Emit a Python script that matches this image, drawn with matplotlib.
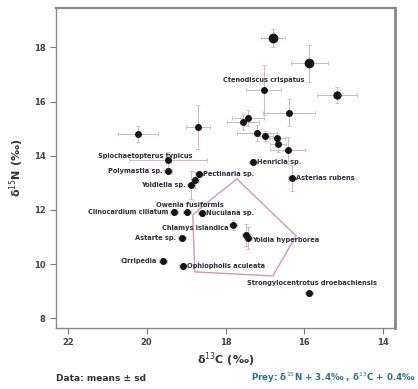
import numpy as np
import matplotlib
matplotlib.use("Agg")
import matplotlib.pyplot as plt

# species means (d13C, d15N) and sd
d13C = [-16.80, -15.88, -15.17, -17.03, -16.39, -17.56, -17.43, -18.70, -20.22,
        -17.20, -17.00, -16.70, -16.67, -16.42, -17.30, -16.31, -19.46, -19.46,
        -18.67, -18.78, -18.88, -19.31, -18.98, -18.60, -17.81, -17.48, -17.43,
        -19.11, -19.59, -19.08, -15.88]
d15N = [18.34, 17.42, 16.24, 16.42, 15.58, 15.24, 15.39, 15.06, 14.80,
        14.83, 14.73, 14.65, 14.43, 14.21, 13.77, 13.18, 13.84, 13.43,
        13.32, 13.10, 12.92, 11.92, 11.92, 11.88, 11.44, 11.06, 10.95,
        10.96, 10.11, 9.93, 8.93]
sd13C = [0.30, 0.47, 0.50, 0.45, 0.66, 0.40, 0.40, 0.30, 0.50,
         0.50, 0.20, 0.20, 0.20, 0.44, 0.10, 0.10, 1.00, 0.10,
         0.10, 0.10, 0.10, 0.10, 0.10, 0.10, 0.10, 0.10, 0.10,
         0.10, 0.10, 0.10, 0.10]
sd15N = [0.33, 0.68, 0.30, 0.93, 0.50, 0.30, 0.30, 0.80, 0.30,
         0.30, 0.20, 0.20, 0.30, 0.50, 0.10, 0.48, 0.30, 0.10,
         0.10, 0.30, 0.50, 0.10, 0.10, 0.10, 0.20, 0.40, 0.40,
         0.10, 0.10, 0.10, 0.10]

# labels: index of point -> name
labels = {
    3: "Ctenodiscus crispatus",
    14: "Henricia sp.",
    15: "Asterias rubens",
    16: "Spiochaetopterus typicus",
    17: "Polymastia sp.",
    18: "Pectinaria sp.",
    20: "Yoldiella sp.",
    21: "Clinocardium ciliatum",
    22: "Owenia fusiformis",
    23: "Nuculana sp.",
    24: "Chlamys islandica",
    26: "Yoldia hyperborea",
    27: "Astarte sp.",
    28: "Cirripedia",
    29: "Ophiopholis aculeata",
    30: "Strongylocentrotus droebachiensis",
}

# prey hull shifted by trophic enrichment
hull_C = [-17.71, -16.21, -16.80, -18.78, -18.83, -18.32, -17.71]
hull_N = [13.14, 11.04, 9.56, 9.71, 11.81, 12.44, 13.14]

fig = plt.figure(figsize=(4.18, 3.89), dpi=100)
ax = fig.add_axes([0.134, 0.157, 0.811, 0.822])

ax.plot(hull_C, hull_N, color="#d49aa8", lw=1.0, zorder=1)

ax.errorbar(d13C, d15N, xerr=sd13C, yerr=sd15N, fmt="none", ecolor="#cdb9bd",
            elinewidth=0.7, capsize=1.5, capthick=0.6, ls="none", zorder=2)
sizes = [6, 6, 5] + [4] * (len(d13C) - 3)
for x, y, s in zip(d13C, d15N, sizes):
    ax.plot(x, y, "o", color="#151515", ms=s, zorder=3)

# label placement (offset in points, alignment)
place = {
    3: (0, 5, "center", "bottom"),
    14: (3, 0, "left", "center"),
    15: (3, 0, "left", "center"),
    16: (18, 3, "right", "center"),
    17: (-4, 0, "right", "center"),
    18: (3, 0, "left", "center"),
    20: (-4, 0, "right", "center"),
    21: (-4, 0, "right", "center"),
    22: (2, 3, "center", "bottom"),
    23: (3, 0, "left", "center"),
    24: (-3, -2, "right", "center"),
    26: (3, -1, "left", "center"),
    27: (-4, 0, "right", "center"),
    28: (-4, 0, "right", "center"),
    29: (3, 0, "left", "center"),
    30: (2, 5, "center", "bottom"),
}
for i, name in labels.items():
    dx, dy, ha, va = place[i]
    ax.annotate(name, (d13C[i], d15N[i]), xytext=(dx, dy), textcoords="offset points",
                ha=ha, va=va, fontsize=4.8, fontweight="bold", color="#2e2e3a", zorder=4)

ax.set_xlim(-22.30, -13.70)
ax.set_ylim(7.64, 19.45)
ax.set_xticks([-22, -20, -18, -16, -14])
ax.set_xticklabels(["22", "20", "18", "16", "14"])
ax.set_yticks([8, 10, 12, 14, 16, 18])
ax.tick_params(direction="out", length=4, width=0.8, color="#777777",
               labelsize=6, labelcolor="#444444")
for t in ax.get_xticklabels() + ax.get_yticklabels():
    t.set_fontweight("bold")
for side in ax.spines.values():
    side.set_color("#888888")
    side.set_linewidth(1.0)
ax.spines["right"].set_linewidth(2.0)
ax.spines["top"].set_linewidth(1.6)

ax.set_xlabel("δ$^{13}$C (‰)", fontsize=8, fontweight="bold", color="#333333", labelpad=2)
ax.set_ylabel("δ$^{15}$N (‰)", fontsize=8, fontweight="bold", color="#333333", labelpad=6)

fig.text(0.133, 0.02, "Data: means ± sd", fontsize=6.5, fontweight="bold", color="#333333")
fig.text(0.995, 0.02, "Prey: δ$^{15}$N + 3.4‰ , δ$^{13}$C + 0.4‰", fontsize=6.3,
         fontweight="bold", color="#2a7386", ha="right")

fig.savefig("out.png", dpi=100)
